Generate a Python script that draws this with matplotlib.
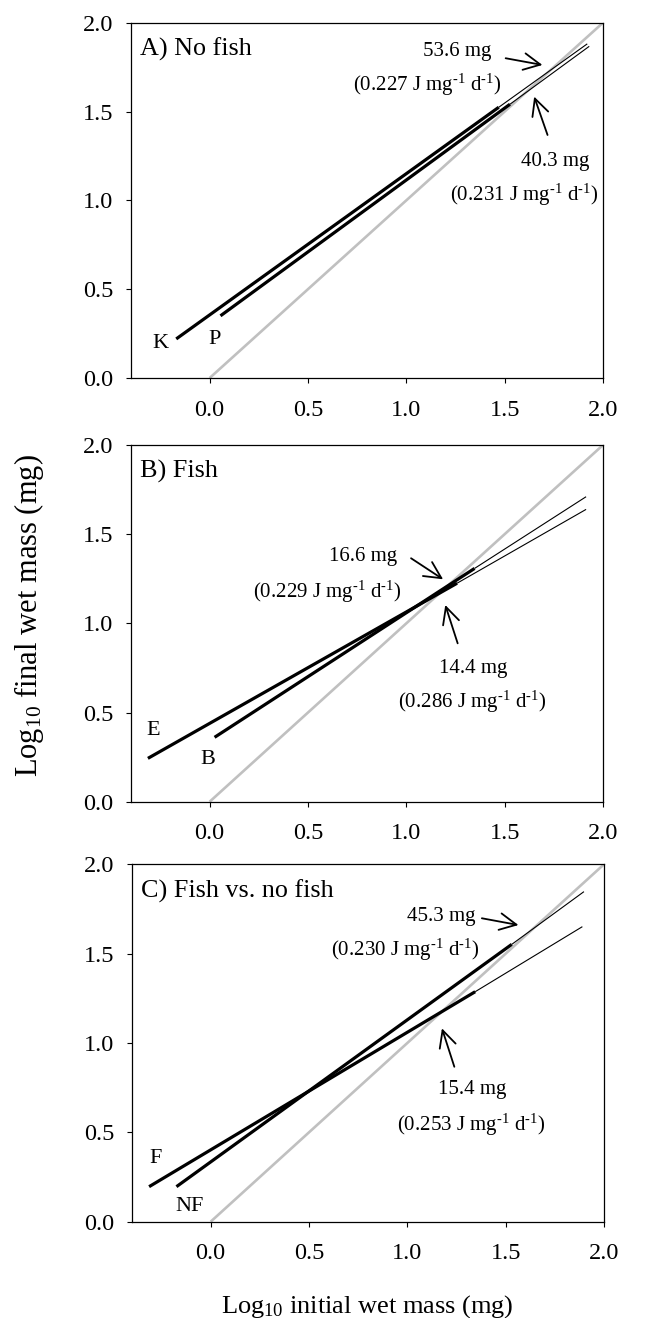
import matplotlib
matplotlib.use("Agg")
import matplotlib.pyplot as plt

plt.rcParams['font.family'] = ['Liberation Serif', 'DejaVu Serif']
plt.rcParams['mathtext.fontset'] = 'custom'
plt.rcParams['mathtext.rm'] = 'Liberation Serif'
plt.rcParams['mathtext.it'] = 'Liberation Serif:italic'
plt.rcParams['mathtext.bf'] = 'Liberation Serif:bold'

# ---- data (log10 initial mass -> log10 final mass); [start, end of thick part, end of thin extension]
A_K_x = [-0.17, 1.47, 1.92]
A_K_y = [0.22, 1.524, 1.881]
A_P_x = [0.055, 1.527, 1.93]
A_P_y = [0.350, 1.541, 1.867]

B_E_x = [-0.314, 1.258, 1.914]
B_E_y = [0.243, 1.225, 1.639]
B_B_x = [0.025, 1.347, 1.914]
B_B_y = [0.361, 1.308, 1.710]

C_F_x = [-0.313, 1.345, 1.890]
C_F_y = [0.196, 1.287, 1.651]
C_NF_x = [-0.174, 1.531, 1.898]
C_NF_y = [0.196, 1.552, 1.847]

one_to_one = [0.0, 2.0]

titles = ["A) No fish", "B) Fish", "C) Fish vs. no fish"]
group_labels = [["K", "P"], ["E", "B"], ["F", "NF"]]
group_label_pos = [[(-0.252, 0.195), (0.026, 0.218)],
                   [(-0.288, 0.398), (-0.010, 0.234)],
                   [(-0.279, 0.355), (-0.107, 0.084)]]
UNIT = r" J mg$^{\text{-1}}$ d$^{\text{-1}}$)"
# annotations: (mass text, energy text, text xy (mass), text xy (energy), arrow tail, arrow head)
annots = [
    [("53.6 mg", "(0.227" + UNIT, (1.259, 1.837), (1.105, 1.650), (1.505, 1.800), (1.692, 1.762)),
     ("40.3 mg", "(0.231" + UNIT, (1.755, 1.218), (1.599, 1.030), (1.718, 1.368), (1.650, 1.584))],
    [("16.6 mg", "(0.229" + UNIT, (0.780, 1.374), (0.597, 1.177), (1.024, 1.365), (1.187, 1.247)),
     ("14.4 mg", "(0.286" + UNIT, (1.339, 0.748), (1.334, 0.561), (1.261, 0.888), (1.198, 1.103))],
    [("45.3 mg", "(0.230" + UNIT, (1.171, 1.707), (0.990, 1.520), (1.379, 1.698), (1.565, 1.660)),
     ("15.4 mg", "(0.253" + UNIT, (1.328, 0.737), (1.323, 0.541), (1.239, 0.867), (1.176, 1.082))],
]

panels = [[(A_K_x, A_K_y), (A_P_x, A_P_y)],
          [(B_E_x, B_E_y), (B_B_x, B_B_y)],
          [(C_F_x, C_F_y), (C_NF_x, C_NF_y)]]

W, H = 659, 1318
fig = plt.figure(figsize=(W / 100, H / 100), dpi=100)

axes_px = [(131, 22.7, 603, 378), (131, 445, 603, 801.7), (132, 864.3, 604, 1221.7)]
ticks = [0.0, 0.5, 1.0, 1.5, 2.0]
tick_labels = ["0.0", "0.5", "1.0", "1.5", "2.0"]

for i, (l, t, r, b) in enumerate(axes_px):
    ax = fig.add_axes([l / W, 1 - b / H, (r - l) / W, (b - t) / H])
    ax.set_xlim(-0.4, 2.0)
    ax.set_ylim(0.0, 2.0)
    ax.plot(one_to_one, one_to_one, color='#c0c0c0', lw=1.9, solid_capstyle='butt', zorder=1)
    for xs, ys in panels[i]:
        ax.plot(xs[1:], ys[1:], color='black', lw=0.8, solid_capstyle='butt', zorder=2)
        ax.plot(xs[:2], ys[:2], color='black', lw=2.3, solid_capstyle='butt', zorder=3)
    ax.set_xticks(ticks)
    ax.set_yticks(ticks)
    ax.set_xticklabels(tick_labels)
    ax.set_yticklabels(tick_labels)
    ax.tick_params(axis='x', direction='out', length=3.6, width=0.8, pad=12, labelsize=17.5)
    ax.tick_params(axis='y', direction='out', length=3.6, width=0.8, pad=9, labelsize=17.5)
    for sp in ax.spines.values():
        sp.set_linewidth(0.9)
    ax.text(0.019, 0.925, titles[i], transform=ax.transAxes, fontsize=18.8, ha='left', va='center')
    for lab, pos in zip(group_labels[i], group_label_pos[i]):
        ax.text(pos[0], pos[1], lab, fontsize=16, ha='center', va='center')
    for mass, energy, pm, pe, tail, head in annots[i]:
        ax.text(pm[0], pm[1], mass, fontsize=15, ha='center', va='center')
        ax.text(pe[0], pe[1], energy, fontsize=15, ha='center', va='center')
        ax.annotate('', xy=head, xytext=tail,
                    arrowprops=dict(arrowstyle='->,head_length=0.6,head_width=0.3',
                                    lw=1.3, color='black', shrinkA=0, shrinkB=0,
                                    mutation_scale=20))

fig.text(29.5 / W, 1 - 616 / H, "Log$_{10}$ final wet mass (mg)", rotation=90,
         fontsize=22, ha='center', va='center')
fig.text(367 / W, 1 - 1313 / H, "Log$_{10}$ initial wet mass (mg)",
         fontsize=19, ha='center', va='baseline')

fig.savefig("out.png", dpi=100)
